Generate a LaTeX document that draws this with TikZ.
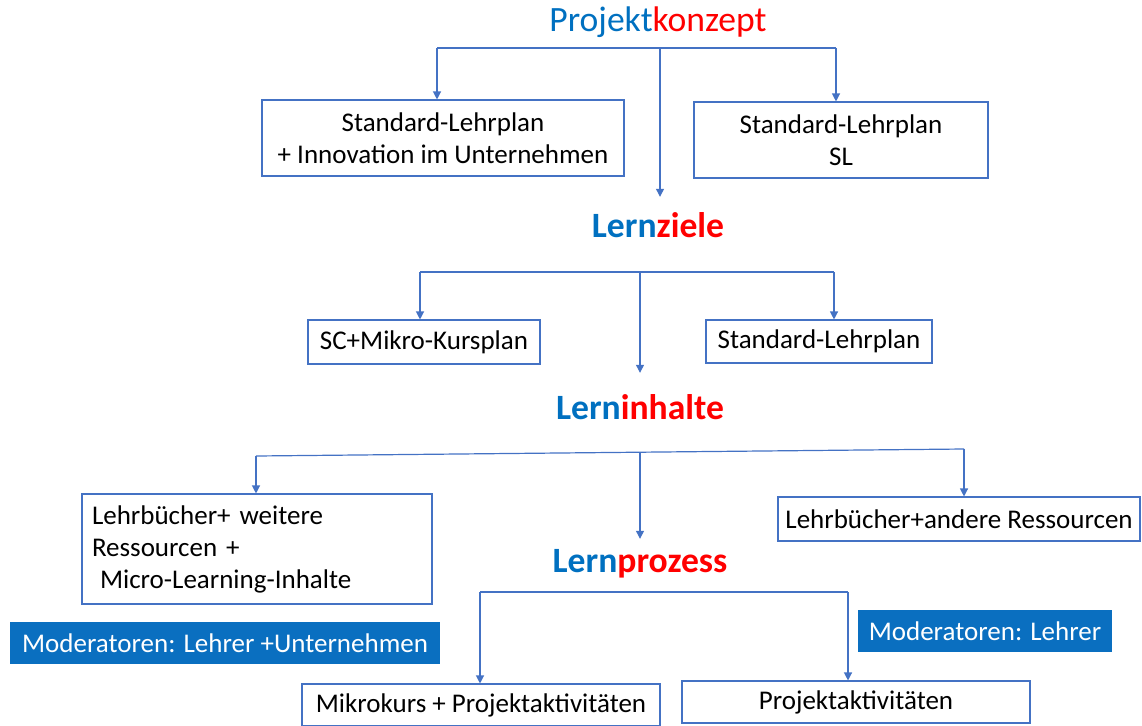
\documentclass[tikz,border=0pt]{standalone}
\usepackage{fontspec}
\setmainfont{Carlito}
\usetikzlibrary{arrows.meta}
\definecolor{lineblue}{RGB}{68,114,196}
\definecolor{titleblue}{RGB}{0,112,192}
\definecolor{titlered}{RGB}{255,0,0}
\definecolor{fillblue}{RGB}{10,111,192}
\begin{document}
\begin{tikzpicture}[x=1pt,y=-1pt,
  conn/.style={draw=lineblue,line width=1.2pt},
  arr/.style={conn,-{Triangle[width=8pt,length=8pt]}},
  box/.style={draw=lineblue,line width=1.1pt,fill=white,inner sep=0pt,align=center,
    font=\fontsize{27}{32}\selectfont},
  modbox/.style={fill=fillblue,text=white,inner sep=0pt,align=center,
    font=\fontsize{27}{32}\selectfont},
  ttl/.style={inner sep=0pt,font=\fontsize{35.6}{40}\selectfont\bfseries},
  ttlreg/.style={inner sep=0pt,font=\fontsize{35.6}{40}\selectfont}]
\useasboundingbox (0,0) rectangle (1142,725);
% titles
\node[ttlreg] (pk) at (658,22) {\textcolor{titleblue}{Projekt}\textcolor{titlered}{konzept}};
\node[ttl,minimum height=56pt] (lz) at (658,225) {\textcolor{titleblue}{Lern}\textcolor{titlered}{ziele}};
\node[ttl,minimum height=68pt] (li) at (640,407) {\textcolor{titleblue}{Lern}\textcolor{titlered}{inhalte}};
\node[ttl,minimum height=50pt] (lp) at (640,564) {\textcolor{titleblue}{Lern}\textcolor{titlered}{prozess}};
% boxes
\node[box,minimum width=362pt,minimum height=76pt] (box1) at (443,138) {Standard-Lehrplan\\+ Innovation im Unternehmen};
\node[box,minimum width=294pt,minimum height=76pt] (box2) at (841,140) {Standard-Lehrplan\\SL};
\node[box,minimum width=232pt,minimum height=44pt] (sc) at (424,342) {SC+Mikro-Kursplan};
\node[box,minimum width=226pt,minimum height=43pt] (sl) at (819,341.5) {Standard-Lehrplan};
\node[box,align=left,text width=330pt,inner xsep=10pt,minimum height=110pt] (lb1) at (257,549) {Lehrbücher+ weitere\\Ressourcen +\\\hspace*{8pt}Micro-Learning-Inhalte};
\node[box,minimum width=362pt,minimum height=44pt] (lb2) at (959,519) {Lehrbücher+andere Ressourcen};
\node[modbox,minimum width=430pt,minimum height=42pt] (mod1) at (225,643) {Moderatoren: Lehrer +Unternehmen};
\node[modbox,minimum width=254pt,minimum height=42pt] (mod2) at (985,631) {Moderatoren: Lehrer};
\node[box,minimum width=358pt,minimum height=42pt] (mk) at (481,705) {Mikrokurs + Projektaktivitäten};
\node[box,minimum width=348pt,minimum height=42pt] (pa) at (856,702) {Projektaktivitäten};
% branch coordinates
\coordinate (b1l) at (437,48);
\coordinate (b1r) at (836,48);
\coordinate (b1c) at (660,48);
\coordinate (b2l) at (420,272);
\coordinate (b2r) at (834,272);
\coordinate (b2c) at (640,272);
\coordinate (b3l) at (256,456);
\coordinate (b3r) at (964,449);
\coordinate (b3c) at (640,453);
\coordinate (b4l) at (480,592);
\coordinate (b4r) at (848,592);
% connectors
\draw[conn] (b1l) -- (b1r);
\draw[arr] (b1l) -- (b1l |- box1.north);
\draw[arr] (b1r) -- (b1r |- box2.north);
\draw[arr] (b1c) -- (b1c |- lz.north);
\draw[conn] (b2l) -- (b2r);
\draw[arr] (b2l) -- (b2l |- sc.north);
\draw[arr] (b2r) -- (b2r |- sl.north);
\draw[arr] (b2c) -- (b2c |- li.north);
\draw[conn] (b3l) -- (b3r);
\draw[arr] (b3l) -- (b3l |- lb1.north);
\draw[arr] (b3r) -- (b3r |- lb2.north);
\draw[arr] (b3c) -- (b3c |- lp.north);
\draw[conn] (b4l) -- (b4r);
\draw[arr] (b4l) -- (b4l |- mk.north);
\draw[arr] (b4r) -- (b4r |- pa.north);
\end{tikzpicture}
\end{document}
